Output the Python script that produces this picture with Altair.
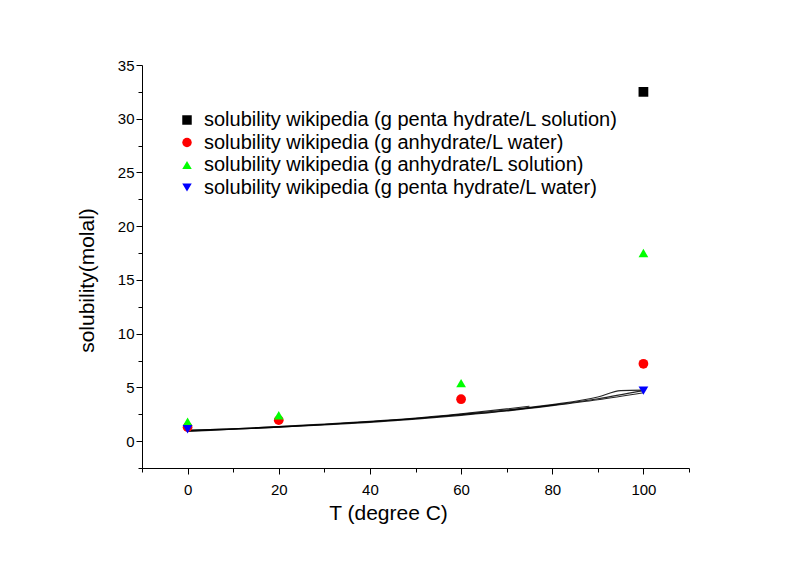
import altair as alt
import pandas as pd

# ---- data ----
series_names = [
    "solubility wikipedia (g penta hydrate/L solution)",
    "solubility wikipedia (g anhydrate/L water)",
    "solubility wikipedia (g anhydrate/L solution)",
    "solubility wikipedia (g penta hydrate/L water)",
]
series_colors = ["#000000", "#ff0000", "#00ff00", "#0000ff"]
series_shapes = ["square", "circle", "triangle-up", "triangle-down"]

t_penta_solution = [100]
s_penta_solution = [32.5]
t_anh_water = [0, 20, 60, 100]
s_anh_water = [1.3, 1.95, 3.9, 7.2]
t_anh_solution = [0, 20, 60, 100]
s_anh_solution = [1.8, 2.4, 5.4, 17.5]
t_penta_water = [0, 100]
s_penta_water = [1.1, 4.7]

# model curves (thin black lines)
curve1_t = [0, 10, 20, 30, 40, 50, 60, 70, 80, 90, 100]
curve1_s = [1.0, 1.15, 1.35, 1.55, 1.8, 2.1, 2.45, 2.85, 3.35, 3.95, 4.7]
curve2_t = [0, 10, 20, 30, 40, 50, 60, 70, 80, 90, 100]
curve2_s = [0.95, 1.1, 1.3, 1.5, 1.75, 2.05, 2.4, 2.8, 3.3, 3.85, 4.5]
curve3_t = [0, 10, 20, 30, 40, 50, 60, 70, 75]
curve3_s = [1.0, 1.15, 1.35, 1.6, 1.85, 2.15, 2.55, 3.0, 3.25]
curve4_t = [0, 10, 20, 30, 40, 50, 60, 70, 80, 90, 95, 100]
curve4_s = [0.9, 1.1, 1.3, 1.55, 1.8, 2.1, 2.5, 2.9, 3.4, 4.1, 4.7, 4.75]

x_major = [0, 20, 40, 60, 80, 100]
x_minor = [-10, 10, 30, 50, 70, 90, 110]
y_major = [0, 5, 10, 15, 20, 25, 30, 35]
y_minor = [-2.5, 2.5, 7.5, 12.5, 17.5, 22.5, 27.5, 32.5]

# ---- tables ----
pts = []
for name, ts, ss in zip(series_names,
                        [t_penta_solution, t_anh_water, t_anh_solution, t_penta_water],
                        [s_penta_solution, s_anh_water, s_anh_solution, s_penta_water]):
    for t, s in zip(ts, ss):
        pts.append({"T": t, "S": s, "series": name})
pts = pd.DataFrame(pts)

lines = []
for i, (ts, ss) in enumerate([(curve1_t, curve1_s), (curve2_t, curve2_s),
                              (curve3_t, curve3_s), (curve4_t, curve4_s)]):
    for t, s in zip(ts, ss):
        lines.append({"T": t, "S": s, "run": i})
lines = pd.DataFrame(lines)

FONT = "Liberation Sans"
xscale = alt.Scale(domain=[-10, 110], nice=False, zero=False)
yscale = alt.Scale(domain=[-2.5, 35], nice=False, zero=False)

minor_layer = alt.Chart(lines).mark_line(strokeWidth=1.1, color="black", opacity=0.85,
                                         interpolate="monotone").encode(
    x=alt.X("T:Q", scale=xscale,
            axis=alt.Axis(orient="bottom", values=x_minor, labels=False, title=None,
                          tickSize=4, domain=False, grid=False, tickColor="black")),
    y=alt.Y("S:Q", scale=yscale,
            axis=alt.Axis(orient="left", values=y_minor, labels=False, title=None,
                          tickSize=4, domain=False, grid=False, tickColor="black")),
    detail="run:N",
)

legend = alt.Legend(title=None, orient="none", legendX=35, legendY=45,
                    labelFontSize=20, labelFont=FONT, labelColor="black",
                    labelOffset=7, rowPadding=2.5, symbolSize=90,
                    labelLimit=700, padding=0)

point_layer = alt.Chart(pts).mark_point(filled=True, opacity=1, size=95).encode(
    x=alt.X("T:Q", scale=xscale,
            axis=alt.Axis(orient="bottom", values=x_major, title="T (degree C)",
                          tickSize=6, labelFontSize=15, titleFontSize=21,
                          labelPadding=8, titlePadding=5, titleX=246, grid=False,
                          domainColor="black", tickColor="black",
                          labelColor="black", titleColor="black",
                          labelFont=FONT, titleFont=FONT, titleFontWeight="normal")),
    y=alt.Y("S:Q", scale=yscale,
            axis=alt.Axis(orient="left", values=y_major, title="solubility(molal)",
                          tickSize=6, labelFontSize=15, titleFontSize=21,
                          labelPadding=2, titlePadding=20, titleY=215, grid=False,
                          domainColor="black", tickColor="black",
                          labelColor="black", titleColor="black",
                          labelFont=FONT, titleFont=FONT, titleFontWeight="normal")),
    color=alt.Color("series:N", scale=alt.Scale(domain=series_names, range=series_colors),
                    legend=legend),
    shape=alt.Shape("series:N", scale=alt.Scale(domain=series_names, range=series_shapes),
                    legend=legend),
)

chart = alt.layer(minor_layer, point_layer).resolve_axis(
    x="independent", y="independent"
).properties(
    width=547, height=403,
    background="white",
    autosize=alt.AutoSizeParams(type="none"),
    padding={"left": 134, "top": 57, "right": 90, "bottom": 80},
).configure_view(strokeWidth=0, stroke="transparent")

chart.save("out.html", embed_options={"renderer": "svg", "actions": False})
